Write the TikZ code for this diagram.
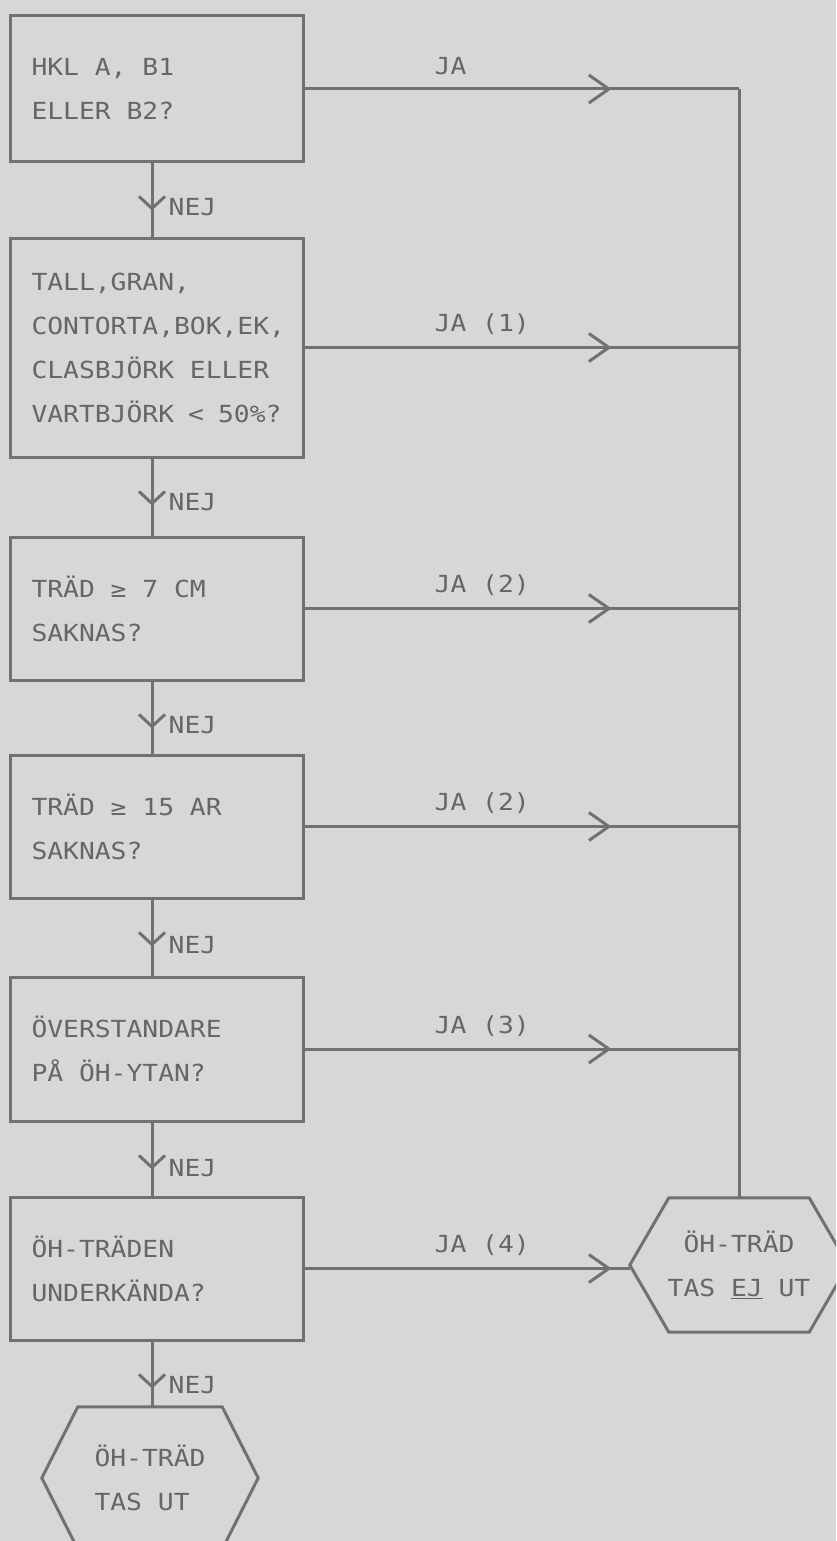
\documentclass[tikz,border=0pt]{standalone}
\usepackage{fontspec}
\newfontfamily\plotfont[FakeStretch=1.12]{DejaVu Sans Mono}
\usetikzlibrary{arrows.meta,decorations.markings}
\definecolor{bgc}{HTML}{D7D7D7}
\definecolor{ink}{HTML}{717171}
\definecolor{txt}{HTML}{666666}
\begin{document}
\begin{tikzpicture}[x=1pt,y=-1pt,
  every node/.append style={font=\plotfont\fontsize{23.5}{44}\selectfont, text=txt},
  qbox/.style={draw=ink, line width=3pt, rectangle, minimum width=293pt, text width=250pt,
    inner xsep=21.5pt, inner ysep=0pt, align=flush left},
  hexnode/.style={rectangle, inner sep=0pt},
  conn/.style={draw=ink, line width=3pt, line join=miter},
  lbl/.style={inner sep=0pt},
  rchev/.style={postaction={decorate}, decoration={markings,
    mark=at position 307pt with {\arrow[ink, line width=3pt]{Straight Barb[length=20pt,width=28pt]}}}},
  dchev/.style={postaction={decorate}, decoration={markings,
    mark=at position 47pt with {\arrow[ink, line width=3pt]{Straight Barb[length=12pt,width=26pt]}}}}
]
\useasboundingbox (0,0) rectangle (836,1541);
\fill[bgc] (0,0) rectangle (836,1541);
\clip (0,0) rectangle (836,1541);

\coordinate (spine) at (152,0);

\node[qbox, minimum height=146pt] (b1) at (156.5,89) {HKL A, B1\\ELLER B2?};
\node[qbox, minimum height=219pt] (b2) at (156.5,347.5) {TALL,GRAN,\\CONTORTA,BOK,EK,\\CLASBJÖRK ELLER\\VARTBJÖRK < 50\%?};
\node[qbox, minimum height=143pt] (b3) at (156.5,608.5) {TRÄD ≥ 7 CM\\SAKNAS?};
\node[qbox, minimum height=143pt] (b4) at (156.5,826.5) {TRÄD ≥ 15 AR\\SAKNAS?};
\node[qbox, minimum height=144pt] (b5) at (156.5,1049) {ÖVERSTANDARE\\PÅ ÖH-YTAN?};
\node[qbox, minimum height=143pt] (b6) at (156.5,1268.5) {ÖH-TRÄDEN\\UNDERKÄNDA?};

\node[hexnode, minimum width=218pt, minimum height=134pt, align=flush center] (hexR) at (739,1265) {ÖH-TRÄD\\TAS \underline{EJ} UT};
\node[hexnode, minimum width=216pt, minimum height=142pt, align=flush left] (hexL) at (150,1478) {ÖH-TRÄD\\TAS UT};

% hexagon outlines
\draw[conn] ([xshift=39pt]hexR.north west) -- ([xshift=-39pt]hexR.north east) -- (hexR.east)
  -- ([xshift=-39pt]hexR.south east) -- ([xshift=39pt]hexR.south west) -- (hexR.west) -- cycle;
\draw[conn] ([xshift=36pt]hexL.north west) -- ([xshift=-36pt]hexL.north east) -- (hexL.east)
  -- ([xshift=-36pt]hexL.south east) -- ([xshift=36pt]hexL.south west) -- (hexL.west) -- cycle;

% NEJ connectors
\draw[conn, dchev] (b1.south -| spine) -- (b2.north -| spine);
\draw[conn, dchev] (b2.south -| spine) -- (b3.north -| spine);
\draw[conn, dchev] (b3.south -| spine) -- (b4.north -| spine);
\draw[conn, dchev] (b4.south -| spine) -- (b5.north -| spine);
\draw[conn, dchev] (b5.south -| spine) -- (b6.north -| spine);
\draw[conn, dchev] (b6.south -| spine) -- (hexL.north -| spine);

\node[lbl, anchor=west] (n1) at ([xshift=12pt,yshift=-44pt]b1.south) {NEJ};
\node[lbl, anchor=west] (n2) at ([xshift=12pt,yshift=-44pt]b2.south) {NEJ};
\node[lbl, anchor=west] (n3) at ([xshift=12pt,yshift=-44pt]b3.south) {NEJ};
\node[lbl, anchor=west] (n4) at ([xshift=12pt,yshift=-46pt]b4.south) {NEJ};
\node[lbl, anchor=west] (n5) at ([xshift=12pt,yshift=-46pt]b5.south) {NEJ};
\node[lbl, anchor=west] (n6) at ([xshift=12pt,yshift=-44pt]b6.south) {NEJ};

% JA connectors
\draw[conn] (b1.east -| hexR.north) -- (hexR.north);
\draw[conn, rchev] (b1.east) -- (b1.east -| hexR.north);
\draw[conn, rchev] (b2.east) -- (b2.east -| hexR.north);
\draw[conn, rchev] (b3.east) -- (b3.east -| hexR.north);
\draw[conn, rchev] (b4.east) -- (b4.east -| hexR.north);
\draw[conn, rchev] (b5.east) -- (b5.east -| hexR.north);
\draw[conn, rchev] (b6.east) -- (b6.east -| hexR.west);

\node[lbl, anchor=west] (j1) at ([xshift=130pt,yshift=23pt]b1.east) {JA};
\node[lbl, anchor=west] (j2) at ([xshift=130pt,yshift=23pt]b2.east) {JA (1)};
\node[lbl, anchor=west] (j3) at ([xshift=130pt,yshift=23pt]b3.east) {JA (2)};
\node[lbl, anchor=west] (j4) at ([xshift=130pt,yshift=23pt]b4.east) {JA (2)};
\node[lbl, anchor=west] (j5) at ([xshift=130pt,yshift=23pt]b5.east) {JA (3)};
\node[lbl, anchor=west] (j6) at ([xshift=130pt,yshift=23pt]b6.east) {JA (4)};
\end{tikzpicture}
\end{document}
